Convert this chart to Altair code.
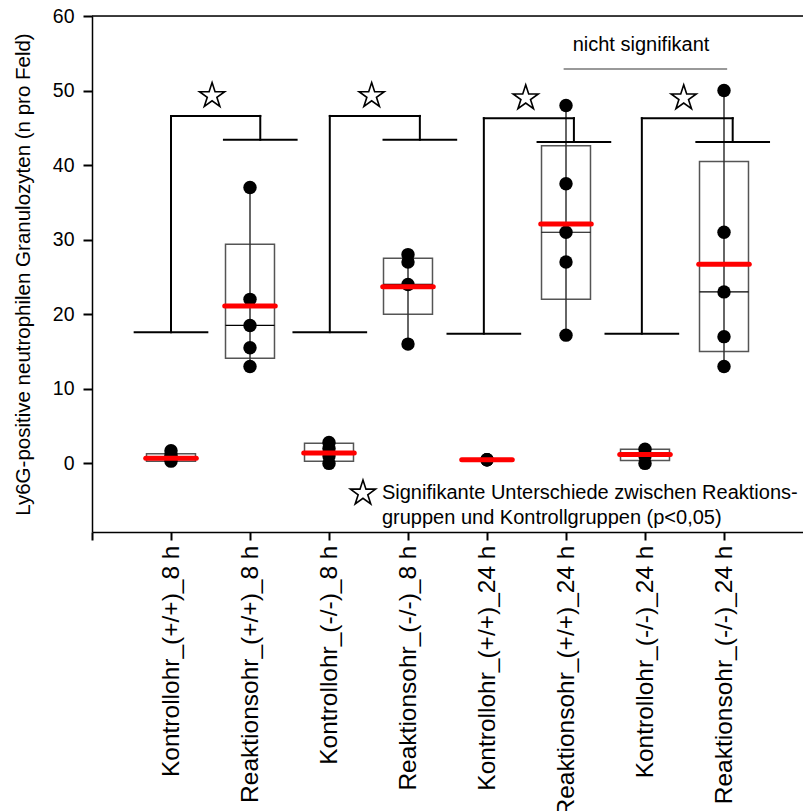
import altair as alt
import pandas as pd

categories = ["Kontrollohr_(+/+)_8 h", "Reaktionsohr_(+/+)_8 h",
              "Kontrollohr_(-/-)_8 h", "Reaktionsohr_(-/-)_8 h",
              "Kontrollohr_(+/+)_24 h", "Reaktionsohr_(+/+)_24 h",
              "Kontrollohr_(-/-)_24 h", "Reaktionsohr_(-/-)_24 h"]
positions = [1, 2, 3, 4, 5, 6, 7, 8]

points = [
    [0.3, 0.7, 1.1, 1.7],
    [13.0, 15.5, 18.5, 22.0, 37.0],
    [0.0, 1.0, 2.0, 2.8],
    [16.0, 24.0, 27.0, 28.0],
    [0.5, 0.5, 0.5],
    [17.2, 27.0, 31.0, 37.5, 48.0],
    [0.0, 1.0, 1.9],
    [13.0, 17.0, 23.0, 31.0, 50.0],
]
box_low = [0.3, 14.1, 0.3, 20.0, 0.5, 22.0, 0.4, 15.0]
box_high = [1.3, 29.4, 2.7, 27.5, 0.5, 42.6, 1.9, 40.5]
medians = [0.8, 18.5, 1.5, 24.0, 0.5, 31.0, 1.2, 23.0]
whisk_low = [0.3, 13.0, 0.0, 16.0, 0.5, 17.2, 0.0, 13.0]
whisk_high = [1.7, 37.0, 2.8, 28.0, 0.5, 48.0, 1.9, 50.0]
means = [0.7, 21.1, 1.4, 23.7, 0.5, 32.1, 1.2, 26.7]

# significance brackets
br_left = [1.0, 3.01, 4.96, 6.96]
br_right = [2.13, 4.15, 6.10, 8.11]
br_top = [46.6, 46.6, 46.3, 46.3]
br_ctrl = [17.6, 17.6, 17.4, 17.4]
br_react = [43.4, 43.4, 43.1, 43.1]
star_x = [1.52, 3.54, 5.49, 7.49]
star_y = [49.3, 49.3, 49.0, 49.0]

ns_text = "nicht signifikant"
ns_x, ns_y = 6.95, 56.1
ns_line = [5.97, 8.04, 52.9]

legend_star = (3.43, -4.0)
legend_lines = ["Signifikante Unterschiede zwischen Reaktions-",
                "gruppen und Kontrollgruppen (p<0,05)"]
legend_x = 3.67
legend_y = [-4.0, -7.35]

x_domain = [0, 9]
y_domain = [-9.2, 60]
y_title = "Ly6G-positive neutrophilen Granulozyten (n pro Feld)"

BOX_HALF = 0.31
MEAN_HALF = 0.32
BR_HALF = 0.46
FONT = "Liberation Sans"

# ---- data tables ----
pts_df = pd.DataFrame([{"pos": p, "v": v} for p, vals in zip(positions, points) for v in vals])
box_df = pd.DataFrame({"pos": positions, "lo": box_low, "hi": box_high, "med": medians,
                       "wlo": whisk_low, "whi": whisk_high, "mean": means})
box_df["xl"] = box_df["pos"] - BOX_HALF
box_df["xr"] = box_df["pos"] + BOX_HALF
box_df["ml"] = box_df["pos"] - MEAN_HALF
box_df["mr"] = box_df["pos"] + MEAN_HALF
box_vis = box_df[box_df["hi"] > box_df["lo"]]

segs = []
for L, R, T, C, Rl in zip(br_left, br_right, br_top, br_ctrl, br_react):
    segs += [
        {"x": L - BR_HALF, "y": C, "x2": L + BR_HALF, "y2": C},
        {"x": L, "y": C, "x2": L, "y2": T},
        {"x": L, "y": T, "x2": R, "y2": T},
        {"x": R, "y": T, "x2": R, "y2": Rl},
        {"x": R - BR_HALF, "y": Rl, "x2": R + BR_HALF, "y2": Rl},
    ]
seg_df = pd.DataFrame(segs)
stars_df = pd.DataFrame({"x": star_x + [legend_star[0]], "y": star_y + [legend_star[1]]})
frame_df = pd.DataFrame({"x": [x_domain[0]], "x2": [x_domain[1]], "y": [y_domain[1]]})
ns_df = pd.DataFrame({"x": [ns_x], "y": [ns_y], "t": [ns_text]})
nsl_df = pd.DataFrame({"x": [ns_line[0]], "x2": [ns_line[1]], "y": [ns_line[2]]})
leg_df = pd.DataFrame({"x": [legend_x] * 2, "y": legend_y, "t": legend_lines})

xs = alt.Scale(domain=x_domain, nice=False, zero=False)
ys = alt.Scale(domain=y_domain, nice=False, zero=False)

label_arr = "[" + ",".join("'" + c + "'" for c in categories) + "]"
x_axis = alt.Axis(values=[0] + positions, title=None, grid=False,
                  labelExpr=f"datum.value == 0 ? '' : {label_arr}[datum.value - 1]",
                  labelAngle=270, labelAlign="right", labelBaseline="middle",
                  labelFontSize=24.5, labelPadding=5, labelOverlap=False, labelColor="black",
                  labelFont=FONT, labelLimit=600,
                  tickSize=8, tickWidth=2, tickColor="black",
                  domainColor="black", domainWidth=1.5)
y_axis = alt.Axis(values=[0, 10, 20, 30, 40, 50, 60], title=y_title, grid=False,
                  labelFontSize=19.5, labelPadding=9, labelColor="black", labelFont=FONT,
                  tickSize=9, tickWidth=2, tickColor="black",
                  domainColor="black", domainWidth=1.5,
                  titleFontSize=20.5, titleFontWeight="normal", titleColor="black",
                  titleFont=FONT, titlePadding=19)


def X(f):
    return alt.X(f, scale=xs, axis=x_axis)


def Y(f):
    return alt.Y(f, scale=ys, axis=y_axis, title=y_title)


frame = alt.Chart(frame_df).mark_rule(color="black", strokeWidth=1.5).encode(
    x=X("x:Q"), x2="x2:Q", y=Y("y:Q"))

box = alt.Chart(box_vis).mark_rect(fillOpacity=0, stroke="#555555", strokeWidth=1.5).encode(
    x=X("xl:Q"), x2="xr:Q", y=Y("lo:Q"), y2="hi:Q")

whisk = alt.Chart(box_df).mark_rule(color="#333333", strokeWidth=1.5).encode(
    x=X("pos:Q"), y=Y("wlo:Q"), y2="whi:Q")

med = alt.Chart(box_vis).mark_rule(color="black", strokeWidth=1.2).encode(
    x=X("xl:Q"), x2="xr:Q", y=Y("med:Q"))

pts = alt.Chart(pts_df).mark_circle(size=180, color="black", opacity=1).encode(
    x=X("pos:Q"), y=Y("v:Q"))

mean = alt.Chart(box_df).mark_rule(color="#ff0000", strokeWidth=5, strokeCap="round").encode(
    x=X("ml:Q"), x2="mr:Q", y=Y("mean:Q"))

brackets = alt.Chart(seg_df).mark_rule(color="black", strokeWidth=2, strokeCap="square").encode(
    x=X("x:Q"), x2="x2:Q", y=Y("y:Q"), y2="y2:Q")

STAR = ("M0,-1L0.225,-0.309L0.951,-0.309L0.363,0.118L0.588,0.809L0,0.382"
        "L-0.588,0.809L-0.363,0.118L-0.951,-0.309L-0.225,-0.309Z")
stars = alt.Chart(stars_df).mark_point(shape=STAR, size=700, filled=False,
                                       color="black", strokeWidth=1.6, opacity=1).encode(
    x=X("x:Q"), y=Y("y:Q"))

ns = alt.Chart(ns_df).mark_text(fontSize=20, font=FONT, color="black").encode(
    x=X("x:Q"), y=Y("y:Q"), text="t:N")

nsl = alt.Chart(nsl_df).mark_rule(color="#777777", strokeWidth=1.5).encode(
    x=X("x:Q"), x2="x2:Q", y=Y("y:Q"))

leg = alt.Chart(leg_df).mark_text(fontSize=20, font=FONT, color="black",
                                  align="left", baseline="middle").encode(
    x=X("x:Q"), y=Y("y:Q"), text="t:N")

chart = alt.layer(frame, box, whisk, med, brackets, pts, mean, stars, ns, nsl, leg).properties(
    width=711, height=516,
    autosize=alt.AutoSizeParams(type="none"),
    padding={"left": 92, "top": 16, "right": 0, "bottom": 279},
).configure_view(strokeWidth=0).configure(font=FONT)

chart.save("out.html", embed_options={"renderer": "svg", "actions": False})
